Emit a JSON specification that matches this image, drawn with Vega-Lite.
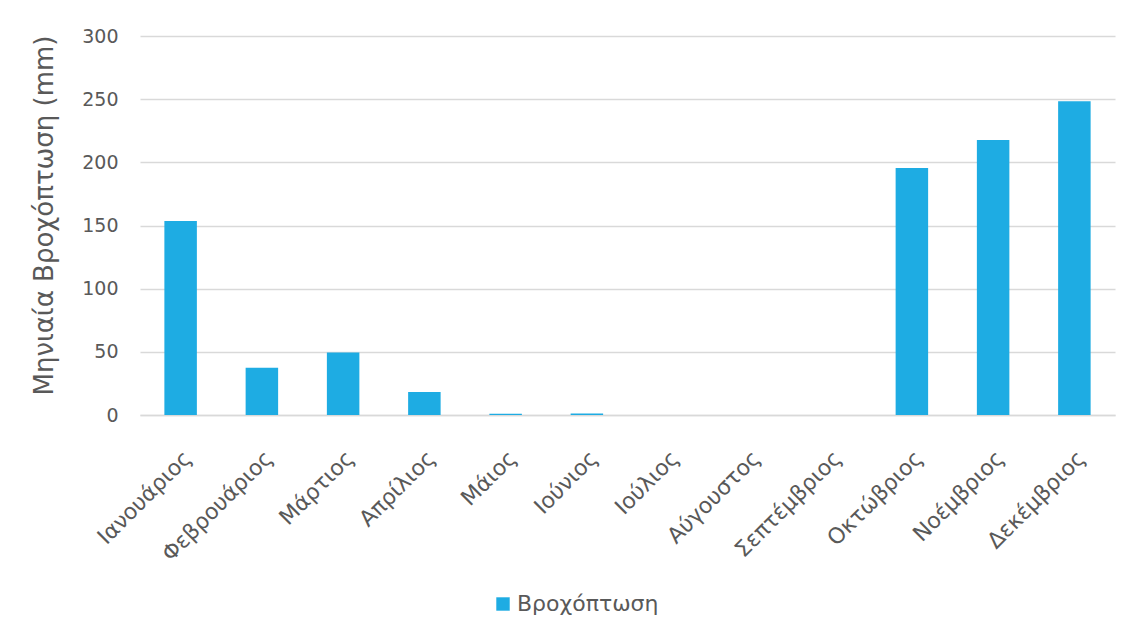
{
  "$schema": "https://vega.github.io/schema/vega-lite/v6.json",
  "autosize": {"type": "none"},
  "width": 975,
  "height": 379,
  "padding": {"left": 140, "top": 36, "right": 20, "bottom": 221},
  "background": "white",
  "data": {
    "values": [
      {"month": "Ιανουάριος", "rain": 153.5, "series": "Βροχόπτωση"},
      {"month": "Φεβρουάριος", "rain": 37.5, "series": "Βροχόπτωση"},
      {"month": "Μάρτιος", "rain": 49.5, "series": "Βροχόπτωση"},
      {"month": "Απρίλιος", "rain": 18.2, "series": "Βροχόπτωση"},
      {"month": "Μάιος", "rain": 1, "series": "Βροχόπτωση"},
      {"month": "Ιούνιος", "rain": 1.2, "series": "Βροχόπτωση"},
      {"month": "Ιούλιος", "rain": 0, "series": "Βροχόπτωση"},
      {"month": "Αύγουστος", "rain": 0, "series": "Βροχόπτωση"},
      {"month": "Σεπτέμβριος", "rain": 0, "series": "Βροχόπτωση"},
      {"month": "Οκτώβριος", "rain": 195.5, "series": "Βροχόπτωση"},
      {"month": "Νοέμβριος", "rain": 217.7, "series": "Βροχόπτωση"},
      {"month": "Δεκέμβριος", "rain": 248.3, "series": "Βροχόπτωση"}
    ]
  },
  "mark": {"type": "bar"},
  "encoding": {
    "x": {
      "field": "month",
      "type": "nominal",
      "sort": null,
      "title": null,
      "scale": {"paddingInner": 0.6, "paddingOuter": 0.3},
      "axis": {
        "labelAngle": -45,
        "labelFontSize": 22,
        "labelColor": "#595959",
        "labelFont": "DejaVu Sans",
        "labelPadding": 32,
        "ticks": false,
        "domainColor": "#d9d9d9",
        "domainWidth": 1.5
      }
    },
    "y": {
      "field": "rain",
      "type": "quantitative",
      "title": "Μηνιαία Βροχόπτωση (mm)",
      "scale": {"domain": [0, 300]},
      "axis": {
        "values": [0, 50, 100, 150, 200, 250, 300],
        "labelFontSize": 19,
        "labelColor": "#595959",
        "labelFont": "DejaVu Sans",
        "labelPadding": 22,
        "ticks": false,
        "domain": false,
        "gridColor": "#d9d9d9",
        "gridWidth": 1.5,
        "titleFontSize": 26,
        "titleFontWeight": "normal",
        "titleColor": "#595959",
        "titleFont": "DejaVu Sans",
        "titlePadding": 24,
        "titleY": 179
      }
    },
    "color": {
      "field": "series",
      "type": "nominal",
      "scale": {"range": ["#1eace3"]},
      "legend": {
        "title": null,
        "orient": "none",
        "legendX": 352,
        "legendY": 557,
        "symbolType": "square",
        "symbolSize": 180,
        "symbolStrokeWidth": 0,
        "labelOffset": 3,
        "labelFontSize": 22,
        "labelColor": "#595959",
        "labelFont": "DejaVu Sans"
      }
    }
  },
  "config": {"view": {"stroke": null}}
}
